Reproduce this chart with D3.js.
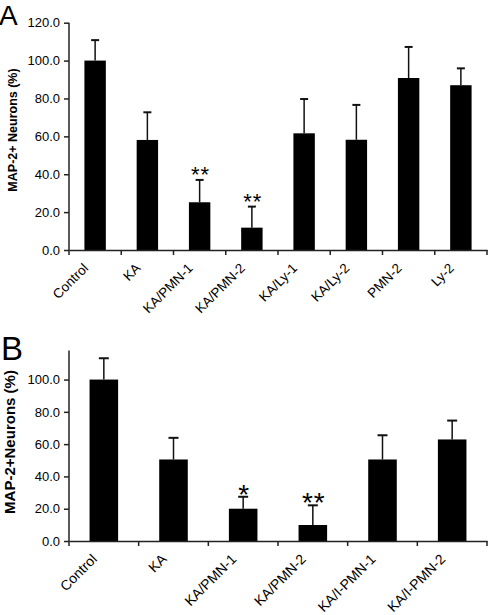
<!DOCTYPE html>
<html>
<head>
<meta charset="utf-8">
<script src="https://cdn.jsdelivr.net/npm/d3@7"></script>
<style>
  html, body { margin: 0; padding: 0; background: #fff; }
  svg { display: block; }
  text { font-family: "Liberation Sans", Arial, sans-serif; fill: #000; }
</style>
</head>
<body>
<svg id="chart" width="491" height="615"></svg>
<script>
// ---- Data: panel A ----
const categoriesA = ["Control", "KA", "KA/PMN-1", "KA/PMN-2", "KA/Ly-1", "KA/Ly-2", "PMN-2", "Ly-2"];
const valuesA = [100.0, 58.1, 25.2, 11.8, 61.6, 58.2, 90.8, 87.0];
const errorsA = [10.8, 14.6, 11.8, 11.1, 18.1, 18.4, 16.4, 8.9];
const sigA = ["", "", "**", "**", "", "", "", ""];
const ticksA = [0, 20, 40, 60, 80, 100, 120];

// ---- Data: panel B ----
const categoriesB = ["Control", "KA", "KA/PMN-1", "KA/PMN-2", "KA/I-PMN-1", "KA/I-PMN-2"];
const valuesB = [100.0, 50.5, 20.0, 9.9, 50.5, 62.9];
const errorsB = [13.2, 13.4, 7.4, 12.2, 15.0, 11.7];
const sigB = ["", "", "*", "**", "", ""];
const ticksB = [0, 20, 40, 60, 80, 100];

const svg = d3.select("#chart");

function panel(cfg) {
  const g = svg.append("g");
  const x = d3.scaleBand().domain(cfg.categories).range([cfg.x0, cfg.x1]).padding(0);
  const y = d3.scaleLinear().domain([0, cfg.yMax]).range([cfg.yBottom, cfg.yTop]);
  const bw = x.bandwidth() * 0.41;

  // bars
  g.selectAll("rect.bar").data(cfg.categories).enter().append("rect")
    .attr("class", "bar")
    .attr("x", d => x(d) + x.bandwidth() / 2 - bw / 2)
    .attr("width", bw)
    .attr("y", (d, i) => y(cfg.values[i]))
    .attr("height", (d, i) => y(0) - y(cfg.values[i]))
    .attr("fill", "#000");

  // error bars
  const eg = g.selectAll("g.err").data(cfg.categories).enter().append("g").attr("class", "err");
  eg.append("line")
    .attr("x1", d => x(d) + x.bandwidth() / 2)
    .attr("x2", d => x(d) + x.bandwidth() / 2)
    .attr("y1", (d, i) => y(cfg.values[i]))
    .attr("y2", (d, i) => y(cfg.values[i] + cfg.errors[i]))
    .attr("stroke", "#111").attr("stroke-width", 1.5);
  eg.append("line")
    .attr("x1", d => x(d) + x.bandwidth() / 2 - cfg.cap)
    .attr("x2", d => x(d) + x.bandwidth() / 2 + cfg.cap)
    .attr("y1", (d, i) => y(cfg.values[i] + cfg.errors[i]))
    .attr("y2", (d, i) => y(cfg.values[i] + cfg.errors[i]))
    .attr("stroke", "#111").attr("stroke-width", 2);

  // significance stars
  g.selectAll("text.sig").data(cfg.categories).enter().append("text")
    .attr("class", "sig")
    .attr("x", d => x(d) + x.bandwidth() / 2 + 1)
    .attr("y", (d, i) => y(cfg.values[i] + cfg.errors[i]) + cfg.sigOffset)
    .attr("text-anchor", "middle")
    .style("font-size", cfg.sigSize + "px")
    .style("letter-spacing", "1px")
    .text((d, i) => cfg.sig[i]);

  // y axis
  const yAxis = d3.axisLeft(y).tickValues(cfg.ticks).tickFormat(d3.format(".1f"))
    .tickSize(5).tickSizeOuter(0).tickPadding(4);
  const ya = g.append("g").attr("transform", `translate(${cfg.x0},0)`).call(yAxis);
  ya.select(".domain").attr("stroke", "#222").attr("stroke-width", 1.5)
    .attr("d", `M0,${cfg.yBottom}V${cfg.yTop}`);
  ya.selectAll(".tick line").attr("stroke", "#222").attr("stroke-width", 1.5);
  ya.selectAll(".tick text").style("font-size", cfg.tickSize + "px")
    .style("font-family", '"Liberation Sans", Arial, sans-serif').attr("fill", "#000");

  // x axis
  const xAxis = d3.axisBottom(x).tickSize(5).tickSizeOuter(0).tickFormat("");
  const xa = g.append("g").attr("transform", `translate(0,${cfg.yBottom})`).call(xAxis);
  xa.select(".domain").attr("stroke", "#222").attr("stroke-width", 1.5);
  xa.selectAll(".tick").remove();
  const bounds = [cfg.x0].concat(cfg.categories.map(d => x(d) + x.bandwidth()));
  xa.selectAll("line.bt").data(bounds).enter().append("line")
    .attr("class", "bt")
    .attr("x1", d => d).attr("x2", d => d)
    .attr("y1", 0).attr("y2", 5)
    .attr("stroke", "#222").attr("stroke-width", 1.5);

  // x labels rotated
  g.selectAll("text.xl").data(cfg.categories).enter().append("text")
    .attr("class", "xl")
    .attr("text-anchor", "end")
    .style("font-size", cfg.labelSize + "px")
    .attr("transform", d => `translate(${x(d) + x.bandwidth() / 2 + cfg.labDx},${cfg.yBottom + cfg.labDy}) rotate(-45)`)
    .text(d => d);

  // y title
  g.append("text")
    .attr("text-anchor", "middle")
    .attr("transform", `translate(${cfg.titleX},${cfg.titleY}) rotate(-90)`)
    .style("font-size", cfg.titleSize + "px")
    .style("font-weight", "bold")
    .text(cfg.title);

  // panel letter
  g.append("text")
    .attr("x", cfg.letterX).attr("y", cfg.letterY)
    .style("font-size", cfg.letterSize + "px")
    .text(cfg.letter);
}

panel({
  categories: categoriesA, values: valuesA, errors: errorsA, sig: sigA, ticks: ticksA,
  x0: 69, x1: 487, yBottom: 250, yTop: 22.7, yMax: 120,
  cap: 4, sigSize: 22, sigOffset: 2, tickSize: 13, labelSize: 13.5, labDx: -6, labDy: 19,
  title: "MAP-2+ Neurons (%)", titleX: 17, titleY: 130, titleSize: 12.5,
  letter: "A", letterX: -1, letterY: 25, letterSize: 28
});

panel({
  categories: categoriesB, values: valuesB, errors: errorsB, sig: sigB, ticks: ticksB,
  x0: 69, x1: 487, yBottom: 541, yTop: 350.5, yMax: 118,
  cap: 5, sigSize: 28, sigOffset: 7, tickSize: 13, labelSize: 14, labDx: -6, labDy: 19,
  title: "MAP-2+Neurons (%)", titleX: 15, titleY: 442, titleSize: 15,
  letter: "B", letterX: 1, letterY: 360, letterSize: 33
});
</script>
</body>
</html>
